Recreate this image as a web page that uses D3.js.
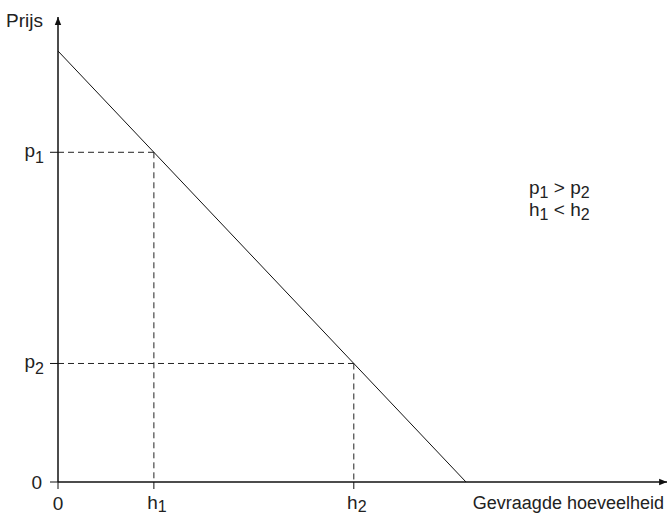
<!DOCTYPE html>
<html><head><meta charset="utf-8">
<script src="https://cdn.jsdelivr.net/npm/d3@7"></script>
<style>body{margin:0;background:#fff}svg{display:block}text{font-family:"Liberation Sans",Arial,sans-serif;fill:#222}</style>
</head><body>
<svg id="c" width="667" height="516"></svg>
<script>
// Data
const demandQ = [0, 10];          // quantity
const demandP = [10, 0];          // price
const hValues = [2.35, 7.25];     // h1, h2
const pValues = [7.65, 2.75];     // p1, p2
const hLabels = ["h", "h"], hSubs = ["1", "2"];
const pLabels = ["p", "p"], pSubs = ["1", "2"];
const xMax = 14.93, yMax = 10.79;

const svg = d3.select("#c");
const x = d3.scaleLinear().domain([0, 10]).range([58, 466]);
const y = d3.scaleLinear().domain([0, 10]).range([482, 51]);

svg.append("defs").append("marker").attr("id","arr").attr("viewBox","0 0 10 10")
  .attr("refX",10).attr("refY",5).attr("markerWidth",8).attr("markerHeight",9)
  .attr("markerUnits","userSpaceOnUse").attr("orient","auto")
  .append("path").attr("d","M0,1L10,5L0,9Z").attr("fill","#111");

// dashed guides
const g = svg.append("g");
hValues.forEach((h,i)=>{
  const p = pValues[i];
  g.append("line").attr("x1",x(0)).attr("x2",x(h)).attr("y1",y(p)).attr("y2",y(p))
    .attr("stroke","#222").attr("stroke-width",1).attr("stroke-dasharray","6,4");
  g.append("line").attr("x1",x(h)).attr("x2",x(h)).attr("y1",y(p)).attr("y2",y(0))
    .attr("stroke","#222").attr("stroke-width",1).attr("stroke-dasharray","6,4");
});

// demand line
svg.append("path").datum(demandQ.map((q,i)=>[q,demandP[i]]))
  .attr("d", d3.line().x(d=>x(d[0])).y(d=>y(d[1])))
  .attr("stroke","#111").attr("stroke-width",1).attr("fill","none");

// axes
svg.append("line").attr("x1",x(0)).attr("x2",x(xMax)).attr("y1",y(0)).attr("y2",y(0))
  .attr("stroke","#111").attr("stroke-width",1.5).attr("marker-end","url(#arr)");
svg.append("line").attr("x1",x(0)).attr("x2",x(0)).attr("y1",y(0)).attr("y2",y(yMax))
  .attr("stroke","#111").attr("stroke-width",1.5).attr("marker-end","url(#arr)");

// ticks
[0, ...pValues].forEach(p=>{
  svg.append("line").attr("x1",x(0)-8).attr("x2",x(0)).attr("y1",y(p)).attr("y2",y(p)).attr("stroke","#111").attr("stroke-width",1);
});
[0, ...hValues].forEach(h=>{
  svg.append("line").attr("x1",x(h)).attr("x2",x(h)).attr("y1",y(0)).attr("y2",y(0)+7).attr("stroke","#111").attr("stroke-width",1);
});

const fs = 19, ss = 16;
function sub(sel, base, s, dy){
  sel.append("tspan").text(base);
  sel.append("tspan").attr("font-size",ss).attr("dy",dy).text(s);
}
// y tick labels
svg.append("text").attr("x",x(0)-16).attr("y",y(0)+7).attr("text-anchor","end").attr("font-size",fs).text("0");
pValues.forEach((p,i)=>{
  const t = svg.append("text").attr("x",x(0)-14).attr("y",y(p)+5).attr("text-anchor","end").attr("font-size",fs);
  sub(t, pLabels[i], pSubs[i], 6);
});
// x tick labels
svg.append("text").attr("x",x(0)).attr("y",y(0)+28).attr("text-anchor","middle").attr("font-size",fs).text("0");
hValues.forEach((h,i)=>{
  const t = svg.append("text").attr("x",x(h)+3).attr("y",y(0)+27).attr("text-anchor","middle").attr("font-size",fs);
  sub(t, hLabels[i], hSubs[i], 3);
});

// axis titles
svg.append("text").attr("x",6).attr("y",27).attr("font-size",fs).text("Prijs");
svg.append("text").attr("x",664).attr("y",y(0)+27).attr("text-anchor","end").attr("font-size",18)
  .text("Gevraagde hoeveelheid");

// annotation
function ann(yy, a, op, b){
  const t = svg.append("text").attr("x",529).attr("y",yy).attr("font-size",fs);
  t.append("tspan").text(a);
  t.append("tspan").attr("font-size",ss).attr("dy",4).text("1");
  t.append("tspan").attr("dy",-4).text(" " + op + " " + b);
  t.append("tspan").attr("font-size",ss).attr("dy",4).text("2");
}
ann(194, "p", ">", "p");
ann(216, "h", "<", "h");
</script>
</body></html>
